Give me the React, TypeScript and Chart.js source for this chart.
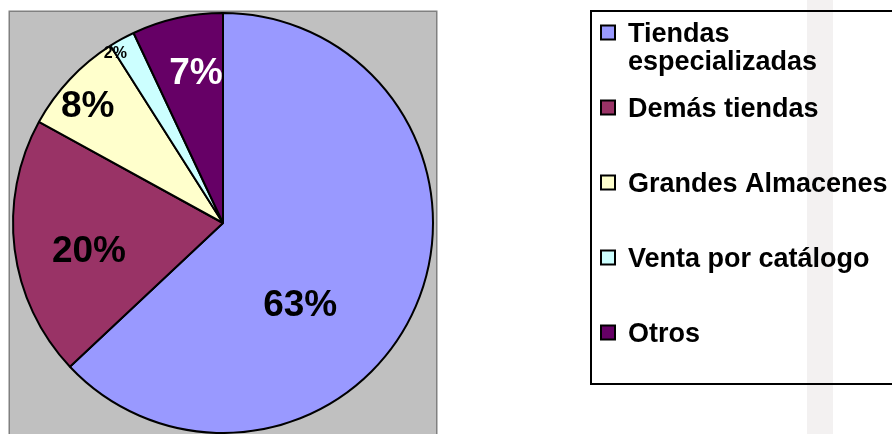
import React, { useEffect, useRef } from "react";
import { Chart, registerables } from "chart.js";

Chart.register(...registerables);

const categories = [
  "Tiendas especializadas",
  "Demás tiendas",
  "Grandes Almacenes",
  "Venta por catálogo",
  "Otros",
];
const shares = [63, 20, 8, 2, 7];
const sliceColors = ["#9999FF", "#993366", "#FFFFCC", "#CCFFFF", "#660066"];
const labelColors = ["#000000", "#000000", "#000000", "#000000", "#FFFFFF"];

// label placement inside each slice (fraction of slice angle, fraction of radius, font size)
const labelAngleFrac = [0.6, 0.45, 0.44, 0.02, 0.6];
const labelRadiusFrac = [0.53, 0.65, 0.86, 0.96, 0.735];
const labelFontSize = [37, 37, 37, 16, 37];

const FONT = "'Liberation Sans', Arial, Helvetica, sans-serif";

const plotBgPlugin = {
  id: "plotBg",
  beforeDraw(chart: any) {
    const ctx = chart.ctx;
    ctx.save();
    // faint watermark band
    ctx.fillStyle = "#F3F1F1";
    ctx.fillRect(807, 0, 26, 434);
    ctx.fillStyle = "#C0C0C0";
    ctx.fillRect(9, 11, 428, 430);
    ctx.strokeStyle = "#808080";
    ctx.lineWidth = 1.5;
    ctx.strokeRect(9.25, 11.25, 427.5, 430);
    ctx.restore();
  },
};

const sliceLabelPlugin = {
  id: "sliceLabels",
  afterDatasetsDraw(chart: any) {
    const ctx = chart.ctx;
    const meta = chart.getDatasetMeta(0);
    const data = chart.data.datasets[0].data;
    ctx.save();
    meta.data.forEach((arc: any, i: number) => {
      const { x, y, startAngle, endAngle, outerRadius } = arc.getProps(
        ["x", "y", "startAngle", "endAngle", "outerRadius"],
        true
      );
      const a = startAngle + (endAngle - startAngle) * labelAngleFrac[i];
      const r = outerRadius * labelRadiusFrac[i];
      const px = x + Math.cos(a) * r;
      const py = y + Math.sin(a) * r;
      const fs = labelFontSize[i];
      ctx.font = `bold ${fs}px ${FONT}`;
      ctx.fillStyle = labelColors[i];
      ctx.textAlign = "center";
      ctx.textBaseline = "alphabetic";
      ctx.fillText(`${data[i]}%`, px, py + fs * 0.358);
    });
    ctx.restore();
  },
};

const legendPlugin = {
  id: "boxLegend",
  afterDraw(chart: any) {
    const ctx = chart.ctx;
    const labels = chart.data.labels as string[];
    const colors = chart.data.datasets[0].backgroundColor as string[];
    const left = 590;
    const top = 10;
    const bottom = 385;
    const fs = 27;
    const firstY = 32.5;
    const step = 75;
    const lineH = 28;
    const textX = 628;
    const maxW = 268;
    ctx.save();
    ctx.fillStyle = "#FFFFFF";
    ctx.fillRect(left, top, 400, bottom - top);
    ctx.fillStyle = "#F3F1F1";
    ctx.fillRect(807, top, 26, bottom - top);
    ctx.strokeStyle = "#000000";
    ctx.lineWidth = 2;
    ctx.strokeRect(left + 1, top + 1, 400, bottom - top - 2);
    ctx.font = `bold ${fs}px ${FONT}`;
    ctx.textAlign = "left";
    ctx.textBaseline = "alphabetic";
    labels.forEach((lab, i) => {
      const cy = firstY + step * i;
      ctx.fillStyle = colors[i];
      ctx.fillRect(601, cy - 7, 14, 14);
      ctx.strokeStyle = "#000000";
      ctx.lineWidth = 2;
      ctx.strokeRect(601, cy - 7, 14, 14);
      const words = lab.split(" ");
      const lines: string[] = [];
      let cur = "";
      words.forEach((w) => {
        const test = cur ? cur + " " + w : w;
        if (cur && ctx.measureText(test).width > maxW) {
          lines.push(cur);
          cur = w;
        } else {
          cur = test;
        }
      });
      if (cur) lines.push(cur);
      ctx.fillStyle = "#000000";
      lines.forEach((ln, j) => {
        ctx.fillText(ln, textX, cy + fs * 0.358 + j * lineH);
      });
    });
    ctx.restore();
  },
};

export default function App() {
  const ref = useRef<HTMLCanvasElement | null>(null);
  useEffect(() => {
    if (!ref.current) return;
    const chart = new Chart(ref.current, {
      type: "pie",
      data: {
        labels: categories,
        datasets: [
          {
            data: shares,
            backgroundColor: sliceColors,
            borderColor: "#000000",
            borderWidth: 2,
            hoverOffset: 0,
          },
        ],
      },
      options: {
        responsive: false,
        animation: false,
        devicePixelRatio: 1,
        events: [],
        layout: { padding: { left: 12, top: 12, right: 458, bottom: 0 } },
        plugins: {
          legend: { display: false },
          tooltip: { enabled: false },
        },
      },
      plugins: [plotBgPlugin, sliceLabelPlugin, legendPlugin],
    });
    return () => chart.destroy();
  }, []);
  return (
    <div style={{ position: "fixed", left: 0, top: 0, width: 892, height: 434, background: "#FFFFFF" }}>
      <canvas ref={ref} width={892} height={434} style={{ display: "block" }} />
    </div>
  );
}
